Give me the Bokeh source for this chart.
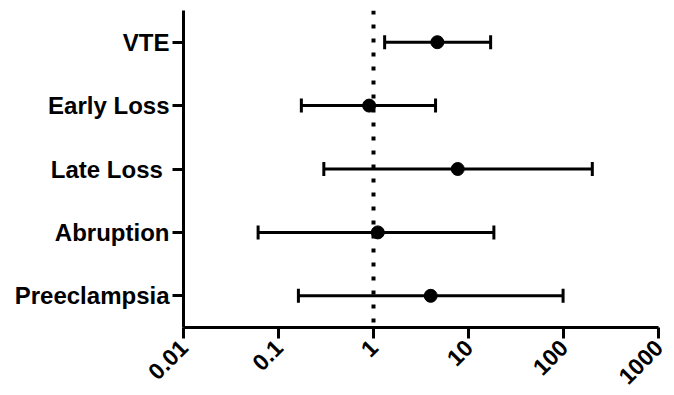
import math
from bokeh.plotting import figure
from bokeh.models import (ColumnDataSource, FixedTicker, CustomJSTickFormatter,
                          Whisker, TeeHead, Span, FactorRange)
from bokeh.embed import file_html
from bokeh.resources import INLINE

categories = ["VTE", "Early Loss", "Late Loss ", "Abruption", "Preeclampsia"]
odds_ratio = [4.7, 0.90, 7.7, 1.11, 4.0]
ci_lower = [1.31, 0.174, 0.30, 0.061, 0.162]
ci_upper = [17.1, 4.5, 201, 18.5, 99]
x_ticks = [0.01, 0.1, 1, 10, 100, 1000]

src = ColumnDataSource(dict(cat=categories, orr=odds_ratio, lo=ci_lower, hi=ci_upper))

p = figure(width=670, height=395, output_backend="svg", toolbar_location=None,
           x_axis_type="log", x_range=(0.01, 1000),
           y_range=FactorRange(factors=categories[::-1]),
           min_border_left=183, min_border_right=12, min_border_top=10, min_border_bottom=68)
p.outline_line_color = None
p.xgrid.grid_line_color = None
p.ygrid.grid_line_color = None

FONT = "Liberation Sans"

# reference line at 1
p.add_layout(Span(location=1, dimension="height", line_color="black",
                  line_width=4, line_dash="4 10", line_dash_offset=0))

wh = Whisker(source=src, base="cat", lower="lo", upper="hi", dimension="width",
             line_color="black", line_width=3,
             lower_head=TeeHead(size=14, line_width=3, line_color="black"),
             upper_head=TeeHead(size=14, line_width=3, line_color="black"))
p.add_layout(wh)

p.scatter("orr", "cat", source=src, size=13, color="black")

for ax in (p.xaxis[0], p.yaxis[0]):
    ax.axis_line_width = 3
    ax.axis_line_color = "black"
    ax.major_tick_line_width = 3
    ax.major_tick_line_color = "black"
    ax.major_tick_out = 11
    ax.major_tick_in = 0
    ax.minor_tick_out = 0
    ax.minor_tick_in = 0
    ax.major_label_text_font = FONT
    ax.major_label_text_font_style = "bold"
    ax.major_label_text_color = "black"

p.yaxis.major_label_text_font_size = "24px"
p.yaxis.major_label_standoff = 3

p.xaxis.ticker = FixedTicker(ticks=x_ticks, minor_ticks=[])
p.xaxis.formatter = CustomJSTickFormatter(code="return tick.toString();")
p.xaxis.major_label_orientation = math.pi / 4
p.xaxis.major_label_text_font_size = "23px"
p.xaxis.major_label_standoff = 5

open("out.html", "w").write(file_html(p, INLINE))
